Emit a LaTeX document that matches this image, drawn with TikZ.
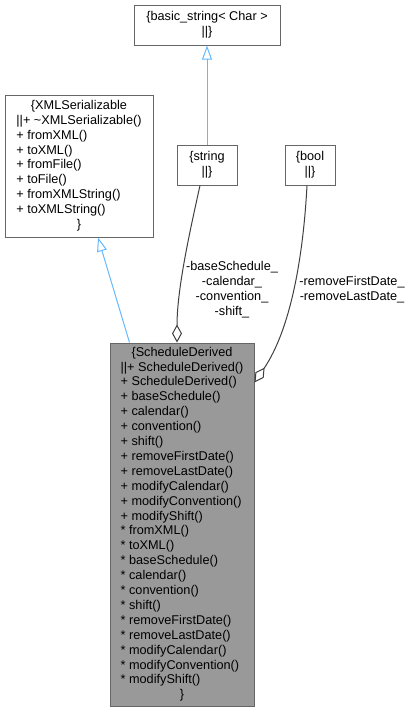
\documentclass[tikz,border=0pt]{standalone}
\usepackage{fontspec}
\setmainfont{Liberation Sans}
\usepackage{xcolor}
\usetikzlibrary{arrows.meta, calc}
\definecolor{edgeblue}{HTML}{63B8FF}
\definecolor{framegray}{HTML}{666666}
\definecolor{classfill}{HTML}{999999}
\definecolor{usegray}{HTML}{404040}
\newcommand{\midline}[1]{\multicolumn{1}{@{}c@{}}{#1}}

\begin{document}
\begin{tikzpicture}[
        x=1pt, y=-1pt,
        font=\fontsize{12.7}{14.9}\selectfont,
        cls/.style     ={draw=framegray, line width=1pt, fill=white,
                         inner sep=0pt, align=center},
        derived/.style ={cls, fill=classfill},
        inherit/.style ={-{Triangle[open, length=14pt, width=10pt]},
                         line width=1pt, draw=edgeblue},
        uses/.style    ={-{Diamond[open, length=18pt, width=10pt]},
                         line width=1pt, draw=usegray},
        lbl/.style     ={align=center, inner sep=0pt}
    ]
      \useasboundingbox (0,0) rectangle (411,712);

      % ===== BASE CLASSES =====
      \node[cls, minimum width=146pt, minimum height=40pt] (bstr) at (207,25)
            {\{basic\_string< Char >\\||\}};
      \node[cls, minimum width=148pt, minimum height=142pt] (xmls) at (79,166)
            {\begin{tabular}{@{}l@{}}
             \midline{\{XMLSerializable}\\
             ||+ \textasciitilde XMLSerializable()\\
             + fromXML()\\
             + toXML()\\
             + fromFile()\\
             + toFile()\\
             + fromXMLString()\\
             + toXMLString()\\
             \midline{\}}
             \end{tabular}};

      % ===== MEMBER TYPES =====
      \node[cls, minimum width=60pt, minimum height=40pt] (str)  at (207,165)
            {\{string\\||\}};
      \node[cls, minimum width=50pt, minimum height=40pt] (bool) at (310,165)
            {\{bool\\||\}};

      % ===== DERIVED CLASS =====
      \node[derived, minimum width=144pt, minimum height=363pt] (sched) at (182,524.5)
            {\begin{tabular}{@{}l@{}}
             \midline{\{ScheduleDerived}\\
             ||+ ScheduleDerived()\\
             + ScheduleDerived()\\
             + baseSchedule()\\
             + calendar()\\
             + convention()\\
             + shift()\\
             + removeFirstDate()\\
             + removeLastDate()\\
             + modifyCalendar()\\
             + modifyConvention()\\
             + modifyShift()\\
             {*} fromXML()\\
             {*} toXML()\\
             {*} baseSchedule()\\
             {*} calendar()\\
             {*} convention()\\
             {*} shift()\\
             {*} removeFirstDate()\\
             {*} removeLastDate()\\
             {*} modifyCalendar()\\
             {*} modifyConvention()\\
             {*} modifyShift()\\
             \midline{\}}
             \end{tabular}};

      % inheritance
      \draw[inherit] (str.north) -- (bstr.south);
      \draw[inherit] ([xshift=20pt]sched.north west) -- ([xshift=19pt]xmls.south);

      % usage with member labels
      \draw[uses] ([xshift=-7pt]str.south) .. controls (189,235) and (177,290) .. ([xshift=-5pt]sched.north);
      \draw[uses] ([xshift=-3pt]bool.south) .. controls (303,260) and (290,330) .. ([yshift=-40pt]sched.north east);
      \node[lbl] (strlbl)  at (232,289.5)
            {-baseSchedule\_\\-calendar\_\\-convention\_\\-shift\_};
      \node[lbl] (boollbl) at (352,290)
            {-removeFirstDate\_\\-removeLastDate\_};
\end{tikzpicture}
\end{document}
